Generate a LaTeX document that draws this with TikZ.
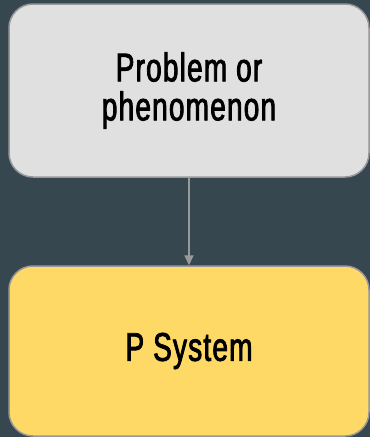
\documentclass[tikz,border=0pt]{standalone}
\usepackage{fontspec}
\setmainfont[FakeStretch=0.70,FakeBold=2,LetterSpace=3]{Liberation Sans}
\usetikzlibrary{arrows.meta}
\definecolor{bgslate}{RGB}{55,71,79}
\definecolor{boxgray}{RGB}{224,224,224}
\definecolor{edgegray}{RGB}{153,153,153}
\definecolor{boxyellow}{RGB}{255,217,102}
\tikzset{
  flowbox/.style={draw=edgegray, line width=1.5pt, rounded corners=24pt,
    minimum width=360pt, inner sep=0pt, align=center,
    font=\fontsize{40pt}{39pt}\selectfont, text=black},
  flowarrow/.style={draw=edgegray, line width=1.8pt,
    -{Triangle[length=10pt,width=9pt]}}
}
\begin{document}
\begin{tikzpicture}[x=1pt,y=-1pt]
  \fill[bgslate] (0,0) rectangle (370,437);
  \useasboundingbox (0,0) rectangle (370,437);
  \node[flowbox, fill=boxgray, minimum height=173pt] (prob) at (189,90.5)
    {Problem or\\phenomenon};
  \node[flowbox, fill=boxyellow, minimum height=170pt] (psys) at (189,351)
    {\raisebox{-3.5pt}{P System}};
  \draw[flowarrow] (prob.south) -- (psys.north);
\end{tikzpicture}
\end{document}
